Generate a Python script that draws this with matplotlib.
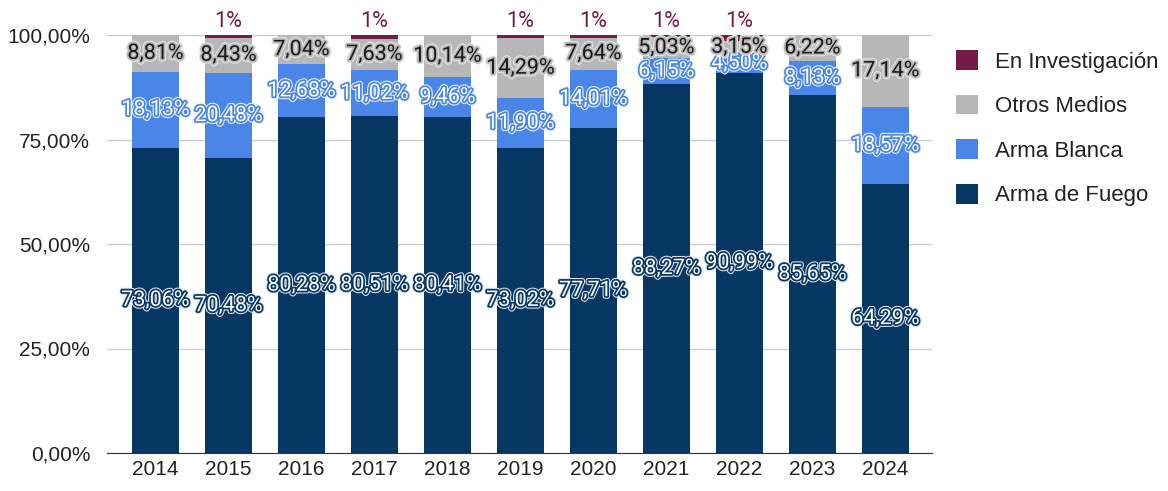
import matplotlib
matplotlib.use("Agg")
import matplotlib.pyplot as plt
import matplotlib.patheffects as pe
import numpy as np

# datos (porcentajes por año)
years = ["2014", "2015", "2016", "2017", "2018", "2019", "2020", "2021", "2022", "2023", "2024"]
arma_fuego = [73.06, 70.48, 80.28, 80.51, 80.41, 73.02, 77.71, 88.27, 90.99, 85.65, 64.29]
arma_blanca = [18.13, 20.48, 12.68, 11.02, 9.46, 11.90, 14.01, 6.15, 4.50, 8.13, 18.57]
otros_medios = [8.81, 8.43, 7.04, 7.63, 10.14, 14.29, 7.64, 5.03, 3.15, 6.22, 17.14]
en_investigacion = [0, 0.61, 0, 0.85, 0, 0.79, 0.64, 0.55, 1.36, 0, 0]

c_fuego = "#073763"
c_blanca = "#4a86e8"
c_otros = "#b7b7b7"
c_inv = "#741b47"

def fmt(v):
    return f"{v:.2f}".replace(".", ",") + "%"

fig = plt.figure(figsize=(11.68, 4.91), dpi=100)
ax = fig.add_axes([107 / 1168, 1 - 453 / 491, 825 / 1168, 418 / 491])

x = np.arange(len(years))
w = 0.64
b1 = np.array(arma_fuego)
b2 = b1 + np.array(arma_blanca)
b3 = b2 + np.array(otros_medios)

ax.bar(x, arma_fuego, w, color=c_fuego, label="Arma de Fuego", zorder=2)
ax.bar(x, arma_blanca, w, bottom=b1, color=c_blanca, label="Arma Blanca", zorder=2)
ax.bar(x, otros_medios, w, bottom=b2, color=c_otros, label="Otros Medios", zorder=2)
ax.bar(x, en_investigacion, w, bottom=b3, color=c_inv, label="En Investigación", zorder=2)

lbl_font = "Roboto"
lbl_size = 15.5
fx_fuego = [pe.Stroke(linewidth=4, foreground="#dfe5ec"), pe.Stroke(linewidth=2.5, foreground=c_fuego), pe.Normal()]
fx_blanca = [pe.Stroke(linewidth=4, foreground="#eef3fc"), pe.Stroke(linewidth=2.5, foreground=c_blanca), pe.Normal()]
fx_otros = [pe.Stroke(linewidth=4, foreground="#e6e6e6"), pe.Stroke(linewidth=2.5, foreground=c_otros), pe.Normal()]

for i in range(len(years)):
    ax.text(x[i], arma_fuego[i] / 2, fmt(arma_fuego[i]), ha="center", va="center",
            color="white", fontsize=lbl_size, family=lbl_font, path_effects=fx_fuego, zorder=5)
    ax.text(x[i], b1[i] + arma_blanca[i] / 2, fmt(arma_blanca[i]), ha="center", va="center",
            color="white", fontsize=lbl_size, family=lbl_font, path_effects=fx_blanca, zorder=5)
    ax.text(x[i], b2[i] + otros_medios[i] / 2, fmt(otros_medios[i]), ha="center", va="center",
            color="#1a1a1a", fontsize=lbl_size, family=lbl_font, path_effects=fx_otros, zorder=5)
    if en_investigacion[i] > 0:
        ax.text(x[i], 100.8, "1%", ha="center", va="bottom",
                color=c_inv, fontsize=lbl_size, family=lbl_font, zorder=5, clip_on=False)

ax.set_xlim(-0.664, 10.64)
ax.set_ylim(0, 100)
ax.set_yticks([0, 25, 50, 75, 100])
ax.set_yticklabels([fmt(v) for v in [0, 25, 50, 75, 100]])
ax.set_xticks(x)
ax.set_xticklabels(years)
ax.tick_params(axis="both", length=0, labelsize=15, colors="#222222")
ax.tick_params(axis="y", pad=12)
ax.tick_params(axis="x", pad=5)
for lab in ax.get_xticklabels() + ax.get_yticklabels():
    lab.set_family("Liberation Sans")

ax.grid(axis="y", color="#cccccc", linewidth=1, zorder=0)
for s in ["top", "right", "left"]:
    ax.spines[s].set_visible(False)
ax.spines["bottom"].set_color("#333333")
ax.spines["bottom"].set_zorder(3)

handles, labels = ax.get_legend_handles_labels()
fig.legend(handles[::-1], labels[::-1], loc="upper left", bbox_to_anchor=(936 / 1168, 1 - 30 / 491),
           frameon=False, prop={"family": "Liberation Sans", "size": 16},
           handlelength=1.0, handleheight=1.0, handletextpad=0.75, labelspacing=0.99,
           labelcolor="#222222")

fig.savefig("out.png", dpi=100)
